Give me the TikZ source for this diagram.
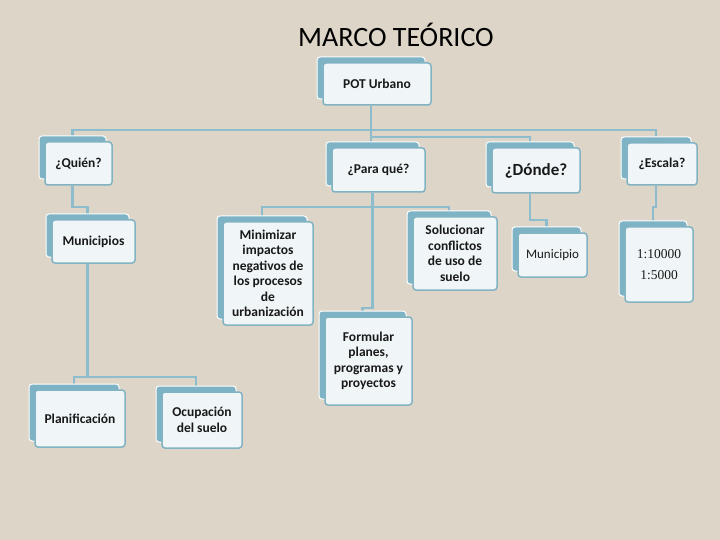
\documentclass[tikz,border=0pt]{standalone}
\usepackage{fontspec}
\setmainfont{Carlito}
\newfontfamily\serif{Liberation Serif}
\usetikzlibrary{shadows,backgrounds}
\definecolor{fondo}{HTML}{DDD5C7}
\definecolor{conector}{HTML}{8DBDCC}
\definecolor{trasera}{HTML}{7DB3C5}
\definecolor{borde}{HTML}{82B3C3}
\definecolor{frente}{HTML}{F0F6F8}
\begin{document}
\begin{tikzpicture}[x=1pt, y=-1pt,
    caja/.style={draw=borde, line width=1.5pt, fill=frente, rounded corners=3pt, align=center,
        inner sep=2pt, text=black!90, font=\bfseries\fontsize{13.5}{15.5}\selectfont,
        general shadow={fill=trasera, draw=white, line width=1pt, shadow xshift=-6pt, shadow yshift=6pt}},
    linea/.style={draw=conector, line width=2.5pt}]
    \node[font=\fontsize{28}{32}\selectfont] (titulo) at (396,35) {MARCO TEÓRICO};
    \node[caja, minimum width=108, minimum height=42] (pot) at (377,84) {POT Urbano};
    \node[caja, minimum width=67, minimum height=43] (quien) at (78.5,163.5) {¿Quién?};
    \node[caja, minimum width=93, minimum height=44] (pq) at (378.5,170) {¿Para qué?};
    \node[caja, minimum width=88, minimum height=45, font=\bfseries\fontsize{17}{20}\selectfont] (donde) at (536,170.5) {¿Dónde?};
    \node[caja, minimum width=70, minimum height=42] (escala) at (662,164) {¿Escala?};
    \node[caja, minimum width=83, minimum height=43] (muni) at (93.5,241.5) {Municipios};
    \node[caja, minimum width=90, minimum height=103] (minim) at (268,273.5) {Minimizar\\impactos\\negativos de\\los procesos\\de\\urbanización};
    \node[caja, minimum width=84, minimum height=73] (soluc) at (455,253.5) {Solucionar\\conflictos\\de uso de\\suelo};
    \node[caja, minimum width=87, minimum height=88] (formu) at (368.5,361) {Formular\\planes,\\programas y\\proyectos};
    \node[caja, minimum width=69, minimum height=44, font=\fontsize{13}{15}\selectfont] (munic) at (552.5,255) {Municipio};
    \node[caja, minimum width=68, minimum height=75, font=\serif\fontsize{13.5}{15}\selectfont] (esc1) at (659,264.5) {1:10000\\[6pt]1:5000};
    \node[caja, minimum width=90, minimum height=57] (plan) at (80,418.5) {Planificación};
    \node[caja, minimum width=80, minimum height=56] (ocup) at (202,420) {Ocupación\\del suelo};
    \foreach \n in {pot,quien,pq,donde,escala,muni,minim,soluc,formu,munic,esc1,plan,ocup}{
        \coordinate (\n-t) at ([xshift=-6pt]\n.north);
        \coordinate (\n-b) at ([xshift=-6pt]\n.south);
    }
    \coordinate (y1) at (0,130);
    \coordinate (y2) at (0,137);
    \coordinate (y3) at (0,207);
    \coordinate (y4) at (0,308);
    \coordinate (y5) at (0,220);
    \coordinate (y6) at (0,377);
    \begin{scope}[on background layer]
        \fill[fondo] (0,0) rectangle (720,540);
        \draw[linea] (pot-b) -- (pot-b |- pq-t);
        \draw[linea] (quien-t) -- (quien-t |- y1) -- (escala-t |- y1) -- (escala-t);
        \draw[linea] (pot-b |- y2) -- (donde-t |- y2) -- (donde-t);
        \draw[linea] (minim-t) -- (minim-t |- y3) -- (soluc-t |- y3) -- (soluc-t);
        \draw[linea] (pq-b) -- (pq-b |- y4) -| (formu-t);
        \draw[linea] (quien-b) -- (quien-b |- y3) -| (muni-t);
        \draw[linea] (donde-b) -- (donde-b |- y5) -| (munic-t);
        \draw[linea] (escala-b) -- (escala-b |- y3) -| (esc1-t);
        \draw[linea] (muni-b) -- (muni-b |- y6);
        \draw[linea] (plan-t) -- (plan-t |- y6) -- (ocup-t |- y6) -- (ocup-t);
    \end{scope}
\end{tikzpicture}
\end{document}
